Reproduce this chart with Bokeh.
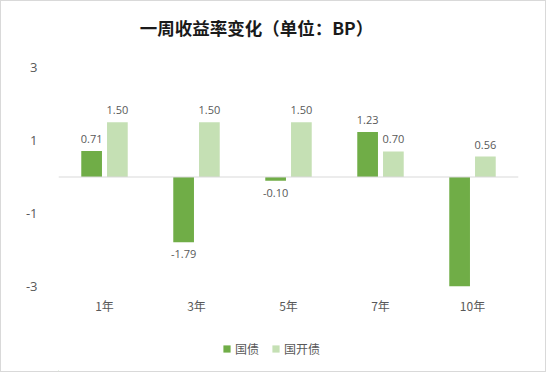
from bokeh.plotting import figure
from bokeh.layouts import column
from bokeh.models import ColumnDataSource, FactorRange, Range1d, FixedTicker, Span, Legend, LegendItem, Label
from bokeh.transform import dodge
from bokeh.core.properties import value
from bokeh.embed import file_html
from bokeh.resources import INLINE

categories = ["1年", "3年", "5年", "7年", "10年"]
guozhai = [0.71, -1.79, -0.10, 1.23, -3.00]
guokai = [1.50, 1.50, 1.50, 0.70, 0.56]
series_names = ["国债", "国开债"]
y_ticks = [-3, -1, 1, 3]
title_text = "一周收益率变化（单位：BP）"

DARK = "#70AD47"
LIGHT = "#C5E0B4"
TXT = "#595959"
CJK = "Noto Sans CJK SC"
NUM = "Open Sans"

W = 544
BL, BR = 57, 27
FW = W - BL - BR

# ---- title strip ----
tt = figure(width=W, height=54, output_backend="svg", toolbar_location=None,
            x_range=Range1d(0, FW), y_range=Range1d(0, 54),
            x_axis_type=None, y_axis_type=None,
            min_border_left=BL, min_border_right=BR, min_border_top=0, min_border_bottom=0)
tt.outline_line_color = None
tt.grid.visible = False
tt.border_fill_color = "white"
tt.add_layout(Label(x=198, y=28.5, text=title_text, text_align="center", text_baseline="middle",
                    text_font=CJK, text_font_size="17.5px", text_font_style="bold",
                    text_color="#1a1a1a"))

# ---- main chart ----
p = figure(width=W, height=271, output_backend="svg", toolbar_location=None,
           x_range=FactorRange(factors=categories, range_padding=0),
           y_range=Range1d(-3, 3),
           min_border_left=BL, min_border_right=BR, min_border_top=12, min_border_bottom=40)
p.outline_line_color = None
p.grid.visible = False
p.background_fill_color = "white"
p.border_fill_color = "white"

def label_cols(vals):
    txt, base, off = [], [], []
    for v in vals:
        txt.append("%.2f" % v if abs(v) < 3 else "")
        base.append("bottom" if v >= 0 else "top")
        off.append(-8 if v >= 0 else 8)
    return txt, base, off

t1, b1, o1 = label_cols(guozhai)
t2, b2, o2 = label_cols(guokai)
src = ColumnDataSource(dict(cat=categories, gz=guozhai, gk=guokai,
                            t1=t1, b1=b1, o1=o1, t2=t2, b2=b2, o2=o2))

p.vbar(x=dodge("cat", -0.14, range=p.x_range), top="gz", bottom=0, width=0.225,
       source=src, fill_color=DARK, line_color=None)
p.vbar(x=dodge("cat", 0.14, range=p.x_range), top="gk", bottom=0, width=0.225,
       source=src, fill_color=LIGHT, line_color=None)

p.add_layout(Span(location=0, dimension="width", line_color="#d9d9d9", line_width=1))

p.text(x=dodge("cat", -0.14, range=p.x_range), y="gz", text="t1", text_baseline="b1",
       y_offset="o1", text_align="center", source=src, text_font=value(NUM),
       text_font_size="11px", text_color=TXT)
p.text(x=dodge("cat", 0.14, range=p.x_range), y="gk", text="t2", text_baseline="b2",
       y_offset="o2", text_align="center", source=src, text_font=value(NUM),
       text_font_size="11px", text_color=TXT)

p.yaxis.ticker = FixedTicker(ticks=y_ticks)
p.yaxis.major_label_overrides = {t: str(t) for t in y_ticks}
p.yaxis.axis_line_color = None
p.yaxis.major_tick_line_color = None
p.yaxis.minor_tick_line_color = None
p.yaxis.major_label_text_font = NUM
p.yaxis.major_label_text_font_size = "13px"
p.yaxis.major_label_text_color = TXT
p.yaxis.major_label_standoff = 15

p.xaxis.axis_line_color = None
p.xaxis.major_tick_line_color = None
p.xaxis.major_label_text_font = CJK
p.xaxis.major_label_text_font_size = "12px"
p.xaxis.major_label_text_color = TXT
p.xaxis.major_label_standoff = 4

# ---- legend strip ----
lg = figure(width=W, height=45, output_backend="svg", toolbar_location=None,
            x_range=Range1d(0, FW), y_range=Range1d(0, 45),
            x_axis_type=None, y_axis_type=None,
            min_border_left=BL, min_border_right=BR, min_border_top=0, min_border_bottom=0)
lg.outline_line_color = None
lg.grid.visible = False
lg.border_fill_color = "white"
lr1 = lg.vbar(x=[-100], top=[1], width=1, fill_color=DARK, line_color=None)
lr2 = lg.vbar(x=[-100], top=[1], width=1, fill_color=LIGHT, line_color=None)
legend = Legend(items=[LegendItem(label=series_names[0], renderers=[lr1]),
                       LegendItem(label=series_names[1], renderers=[lr2])],
                orientation="horizontal", location=(164, 14),
                label_text_font=CJK, label_text_font_size="12px", label_text_color=TXT,
                glyph_width=9, glyph_height=9, spacing=12, label_standoff=4,
                border_line_color=None, background_fill_alpha=0, padding=2, margin=0)
lg.add_layout(legend, "center")

layout = column(tt, p, lg, spacing=0, styles={"border": "1px solid #d9d9d9"})

open("out.html", "w").write(file_html(layout, INLINE))
